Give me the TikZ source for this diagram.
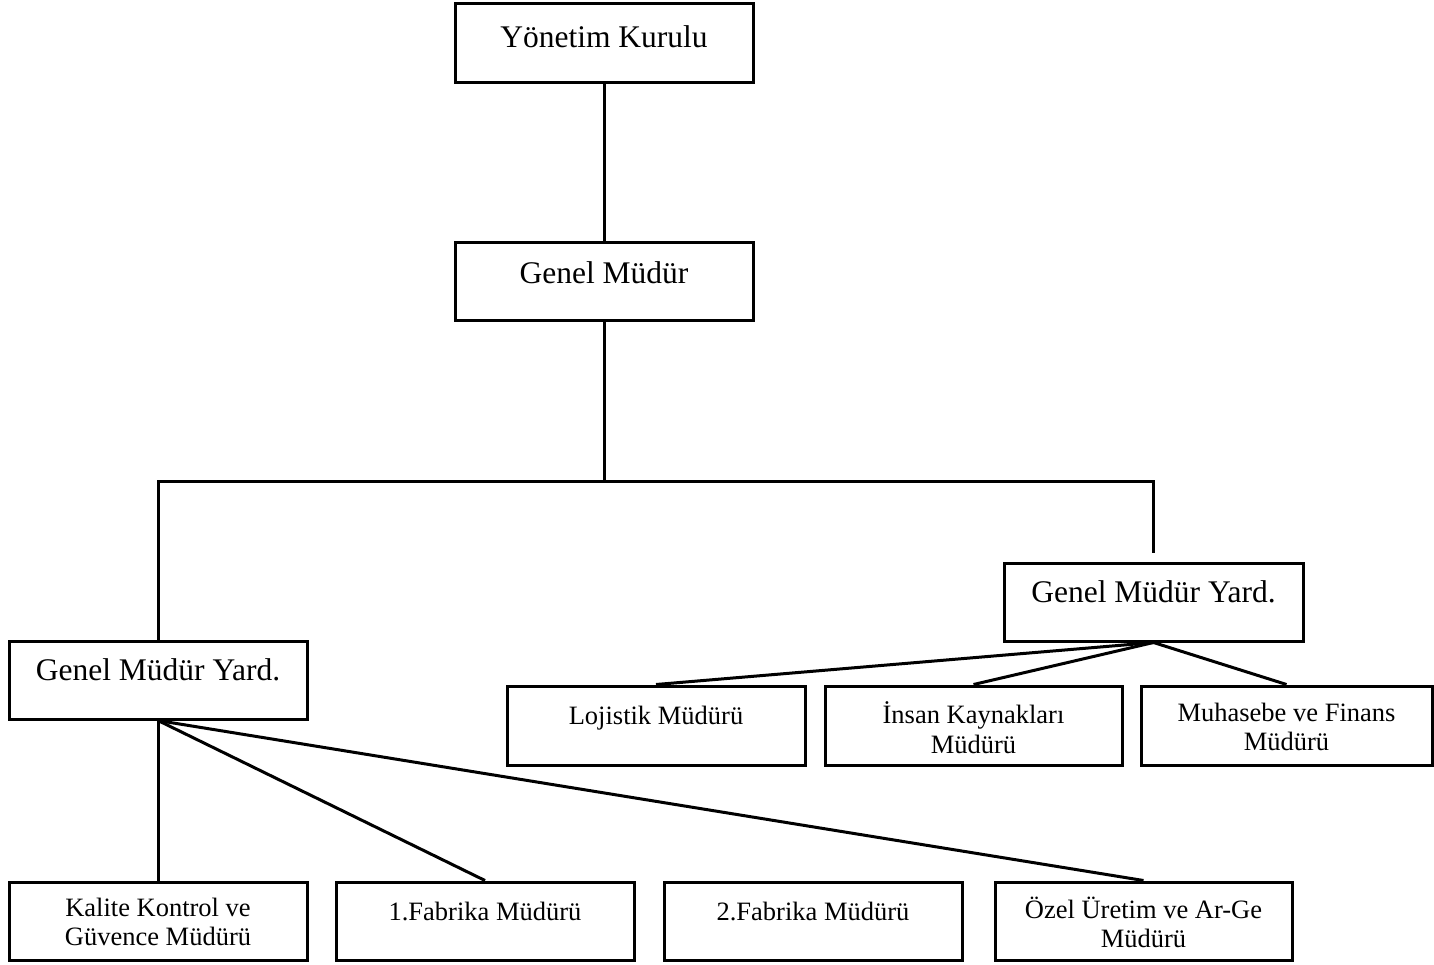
\documentclass[tikz,border=0pt]{standalone}
\usepackage{fontspec}
\setmainfont{Liberation Serif}
\usetikzlibrary{calc}

\tikzset{
  box/.style={draw, line width=3pt, inner sep=0pt, minimum width=298pt, minimum height=78pt},
  bigtext/.style={anchor=north, inner sep=0pt, align=center,
    font=\fontsize{31.5}{36}\selectfont, execute at begin node={\rule{0pt}{28pt}}},
  smalltext/.style={anchor=north, inner sep=0pt, align=center,
    font=\fontsize{26.5}{29.5}\selectfont, execute at begin node={\rule{0pt}{24pt}}},
  link/.style={line width=3pt}
}

\begin{document}
\begin{tikzpicture}[x=1pt, y=-1pt]
\useasboundingbox (0,0) rectangle (1434,965);

% top of the hierarchy
\node[box, minimum height=79pt] (yk) at (604,43.5) {};
\node[bigtext] (yk-t) at ($(yk.north)+(0,17)$) {Yönetim Kurulu};

\node[box] (gm) at (604,282) {};
\node[bigtext] (gm-t) at ($(gm.north)+(0,14)$) {Genel Müdür};

% deputy general managers
\node[box] (gmyl) at (158,680) {};
\node[bigtext] (gmyl-t) at ($(gmyl.north)+(0,13)$) {Genel Müdür Yard.};

\node[box, minimum width=299pt] (gmyr) at (1153.5,602) {};
\node[bigtext] (gmyr-t) at ($(gmyr.north)+(0,13)$) {Genel Müdür Yard.};

% departments under the right deputy
\node[box, minimum height=79pt] (loj) at (656,725.5) {};
\node[smalltext] (loj-t) at ($(loj.north)+(0,16)$) {Lojistik Müdürü};

\node[box, minimum height=79pt, minimum width=297pt] (ik) at (973.5,725.5) {};
\node[smalltext] (ik-t) at ($(ik.north)+(0,17)$) {İnsan Kaynakları\\Müdürü};

\node[box, minimum height=79pt, minimum width=291pt] (muh) at (1286.5,725.5) {};
\node[smalltext] (muh-t) at ($(muh.north)+(0,18)$) {Muhasebe ve Finans\\Müdürü};

% departments under the left deputy
\node[box] (kal) at (158,921) {};
\node[smalltext] (kal-t) at ($(kal.north)+(0,17)$) {Kalite Kontrol ve\\Güvence Müdürü};

\node[box] (fab1) at (485,921) {};
\node[smalltext] (fab1-t) at ($(fab1.north)+(0,16)$) {1.Fabrika Müdürü};

\node[box] (fab2) at (813,921) {};
\node[smalltext] (fab2-t) at ($(fab2.north)+(0,16)$) {2.Fabrika Müdürü};

\node[box, minimum width=297pt] (ozel) at (1143.5,921) {};
\node[smalltext] (ozel-t) at ($(ozel.north)+(0,16)$) {Özel Üretim ve Ar-Ge\\Müdürü};

% connectors
\coordinate (bus-mid) at (604,481);
\coordinate (bus-right) at (1153,481);
\coordinate (bus-end) at (1153,553);

\draw[link] (yk.south) -- (gm.north);
\draw[link] (gm.south) -- (bus-mid);
\draw[link] (gmyl.north) |- (bus-right) -- (bus-end);

\draw[link] (gmyr.south) -- (loj.north);
\draw[link] (gmyr.south) -- (ik.north);
\draw[link] (gmyr.south) -- (muh.north);

\draw[link] (gmyl.south) -- (kal.north);
\draw[link] (gmyl.south) -- (fab1.north);
\draw[link] (gmyl.south) -- (ozel.north);
\end{tikzpicture}
\end{document}
